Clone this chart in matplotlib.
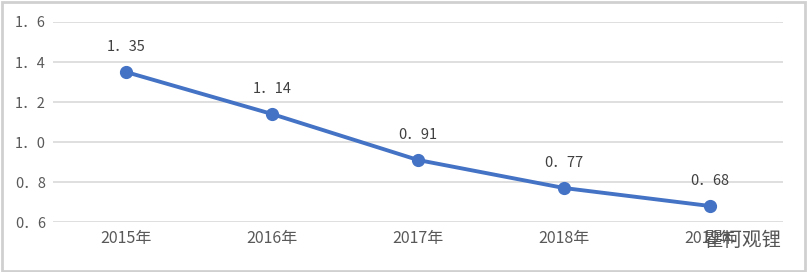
import matplotlib.pyplot as plt
from matplotlib.patches import Rectangle

plt.rcParams['font.family'] = ['Noto Sans CJK SC', 'DejaVu Sans']

years = ['2015年', '2016年', '2017年', '2018年', '2019年']
values = [1.35, 1.14, 0.91, 0.77, 0.68]
yticks = [0.6, 0.8, 1.0, 1.2, 1.4, 1.6]

fig = plt.figure(figsize=(8.08, 2.72), dpi=100)
ax = fig.add_axes([53 / 808, 50 / 272, 730 / 808, 200 / 272])

x = list(range(len(years)))
ax.plot(x, values, color='#4472C4', linewidth=2.8, marker='o', markersize=8.5, zorder=3)

# data labels
for xi, v in zip(x, values):
    ax.annotate(f'{v:.2f}'.replace('.', '．'), (xi, v), xytext=(0, 13), textcoords='offset points',
                ha='center', va='bottom', fontsize=10.5, color='#404040')

ax.set_xlim(-0.5, len(years) - 0.5)
ax.set_ylim(0.6, 1.6)
ax.set_yticks(yticks)
ax.set_yticklabels([f'{t:.1f}'.replace('.', '．') for t in yticks], color='#595959', fontsize=10.5)
ax.set_xticks(x)
ax.set_xticklabels(years, color='#595959', fontsize=11.5)
ax.tick_params(axis='y', length=0, pad=5)
ax.tick_params(axis='x', length=0, pad=6)
ax.yaxis.grid(True, color='#d9d9d9', linewidth=1.2)
ax.set_axisbelow(True)
for s in ax.spines.values():
    s.set_visible(False)

# watermark (overlaps the last year label, as in the source image)
fig.text(742 / 808, 32 / 272, '瞿柯观锂', fontsize=14, color='#555555', ha='center', va='center')

fig.patches.append(Rectangle((0.002, 0.004), 0.994, 0.99, transform=fig.transFigure,
                             fill=False, edgecolor='#d0d0d0', linewidth=2))

fig.savefig('out.png', dpi=100)
